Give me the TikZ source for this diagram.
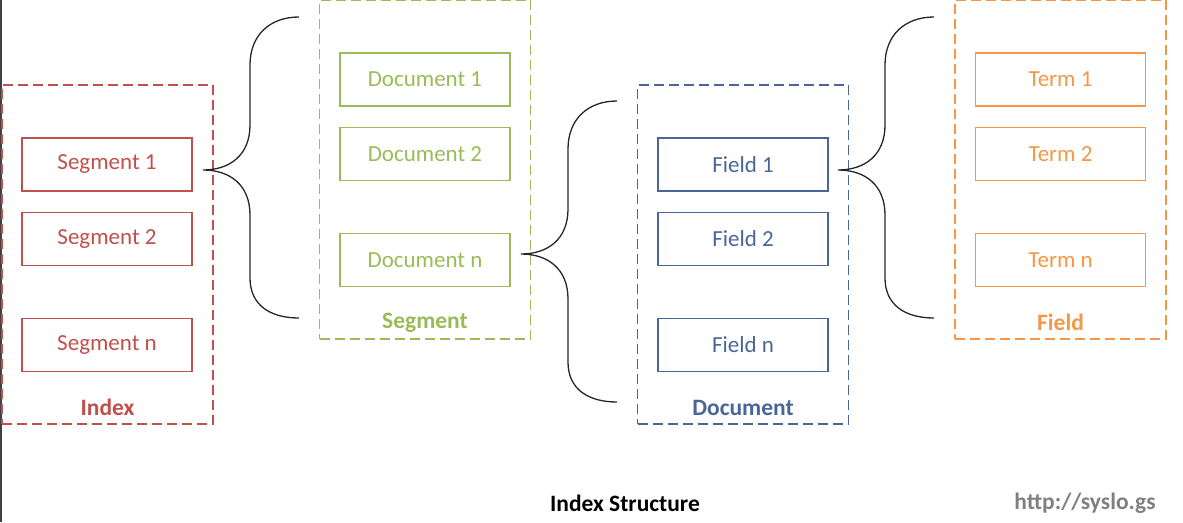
\documentclass[tikz,border=0pt]{standalone}
\usepackage{fontspec}
\setmainfont{Carlito}
\usetikzlibrary{positioning}
\definecolor{idxred}{HTML}{C0504D}
\definecolor{seggreen}{HTML}{9BBB59}
\definecolor{docblue}{HTML}{4A6699}
\definecolor{fldorange}{HTML}{F79646}
\tikzset{
  entry/.style={draw, line width=1.2pt, minimum width=170pt, minimum height=53pt, inner sep=0pt,
                font=\fontsize{23}{27}\selectfont},
  group/.style={draw, dash pattern=on 10pt off 5pt, line width=1.3pt,
                minimum width=211pt, minimum height=339pt},
  grouplabel/.style={font=\fontsize{23.5}{27}\selectfont\bfseries},
  curly/.style={line width=1.3pt, black!85}
}
\begin{document}
\begin{tikzpicture}[x=1pt,y=-1pt]
  \useasboundingbox (0,0) rectangle (1183,522);
  \draw[line width=2pt, black!75] (0.5,0) -- (0.5,522);

  % Index
  \node[group, idxred] (index) at (107.5,254.5) {};
  \node[entry, idxred] (seg1) at (107,164.5) {Segment 1};
  \node[entry, idxred, below=20pt of seg1] (seg2) {Segment 2};
  \node[entry, idxred, below=52pt of seg2] (segn) {Segment n};
  \node[grouplabel, idxred] at ([yshift=17pt]index.south) {Index};

  % Segment
  \node[group, seggreen] (segment) at (425,169.5) {};
  \node[entry, seggreen] (doc1) at (425,79.5) {Document 1};
  \node[entry, seggreen, below=20pt of doc1] (doc2) {Document 2};
  \node[entry, seggreen, below=52pt of doc2] (docn) {Document n};
  \node[grouplabel, seggreen] at ([yshift=17pt]segment.south) {Segment};

  % Document
  \node[group, docblue] (document) at (743,254.5) {};
  \node[entry, docblue] (fld1) at (743,164.5) {Field 1};
  \node[entry, docblue, below=20pt of fld1] (fld2) {Field 2};
  \node[entry, docblue, below=52pt of fld2] (fldn) {Field n};
  \node[grouplabel, docblue] at ([yshift=17pt]document.south) {Document};

  % Field
  \node[group, fldorange] (field) at (1060.5,169.5) {};
  \node[entry, fldorange] (term1) at (1060.5,79.5) {Term 1};
  \node[entry, fldorange, below=20pt of term1] (term2) {Term 2};
  \node[entry, fldorange, below=52pt of term2] (termn) {Term n};
  \node[grouplabel, fldorange] at ([yshift=17pt]field.south) {Field};

  % braces
  \coordinate (tipa) at (203,170);
  \coordinate (tipb) at (521,254);
  \coordinate (tipc) at (838,170);
  \foreach \t in {tipa,tipb,tipc}
    \draw[curly, shift={(\t)}] (96,-153) .. controls (67,-153) and (47,-135) .. (47,-105)
      -- (47,-45) .. controls (47,-15) and (27,0) .. (0,0)
      .. controls (27,0) and (47,15) .. (47,45)
      -- (47,108) .. controls (47,135) and (67,148) .. (96,148);

  % captions
  \node[grouplabel] (title) at (625,503) {Index Structure};
  \node[grouplabel, black!50] (url) at (1085,503) {http://syslo.gs};
\end{tikzpicture}
\end{document}
